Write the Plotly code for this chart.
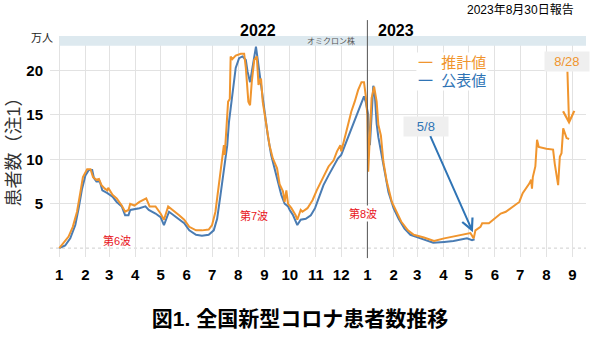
import plotly.graph_objects as go

# ---- data ----
est_dates = [
    "2022-01-01", "2022-01-06", "2022-01-12", "2022-01-17", "2022-01-22", "2022-01-26", "2022-01-29",
    "2022-02-03", "2022-02-07", "2022-02-10", "2022-02-14", "2022-02-17", "2022-02-20", "2022-02-24",
    "2022-02-27", "2022-02-28", "2022-03-05", "2022-03-10", "2022-03-16", "2022-03-20", "2022-03-24",
    "2022-03-26", "2022-03-31", "2022-04-06", "2022-04-11", "2022-04-14", "2022-04-18", "2022-04-25",
    "2022-05-01", "2022-05-05", "2022-05-10", "2022-05-17", "2022-05-23", "2022-05-29", "2022-06-04",
    "2022-06-12", "2022-06-19", "2022-06-27", "2022-07-01", "2022-07-05", "2022-07-09", "2022-07-13",
    "2022-07-15", "2022-07-16", "2022-07-18", "2022-07-20", "2022-07-22", "2022-07-23", "2022-07-25",
    "2022-07-29", "2022-08-04", "2022-08-08", "2022-08-10", "2022-08-13", "2022-08-15", "2022-08-17",
    "2022-08-20", "2022-08-23", "2022-08-25", "2022-08-28", "2022-08-30", "2022-09-03", "2022-09-07",
    "2022-09-11", "2022-09-16", "2022-09-19", "2022-09-23", "2022-09-25", "2022-09-27", "2022-09-29",
    "2022-10-03", "2022-10-08", "2022-10-10", "2022-10-14", "2022-10-16", "2022-10-22", "2022-10-28",
    "2022-11-02", "2022-11-08", "2022-11-12", "2022-11-16", "2022-11-22", "2022-11-26", "2022-11-30",
    "2022-12-01", "2022-12-07", "2022-12-13", "2022-12-17", "2022-12-21", "2022-12-25", "2022-12-28",
    "2022-12-30", "2023-01-01", "2023-01-02", "2023-01-04", "2023-01-06", "2023-01-09", "2023-01-12",
    "2023-01-14", "2023-01-17", "2023-01-20", "2023-01-24", "2023-01-30", "2023-02-05", "2023-02-10",
    "2023-02-18", "2023-02-25", "2023-03-09", "2023-03-21", "2023-04-02", "2023-04-13", "2023-04-25",
    "2023-05-03", "2023-05-07", "2023-05-09", "2023-05-15", "2023-05-17", "2023-05-25", "2023-05-31",
    "2023-06-08", "2023-06-14", "2023-06-22", "2023-06-30", "2023-07-04", "2023-07-08", "2023-07-12",
    "2023-07-14", "2023-07-15", "2023-07-16", "2023-07-19", "2023-07-21", "2023-07-23", "2023-08-01",
    "2023-08-09", "2023-08-11", "2023-08-13", "2023-08-15", "2023-08-17", "2023-08-19", "2023-08-21",
    "2023-08-25", "2023-08-28",
]
est_vals = [
    0.0, 0.6, 1.3, 2.4, 4.1, 6.3, 8.0,
    8.9, 8.9, 8.0, 7.7, 7.8, 7.1, 6.7,
    6.5, 6.8, 6.0, 5.6, 4.8, 4.1, 4.3,
    5.0, 4.8, 5.2, 5.5, 5.6, 4.7, 4.7,
    3.9, 3.2, 4.7, 4.1, 3.7, 3.2, 2.4,
    2.0, 2.0, 2.1, 2.6, 4.1, 7.1, 10.1,
    11.6, 10.5, 13.5, 16.5, 16.8, 21.6, 21.3,
    21.7, 21.9, 21.9, 20.3, 16.5, 16.1, 18.7,
    21.2, 21.6, 18.4, 19.1, 16.5, 13.9, 11.6,
    10.1, 9.0, 7.2, 6.4, 5.2, 6.5, 5.0,
    4.5, 3.7, 3.2, 4.3, 4.1, 4.5, 5.4,
    6.5, 7.7, 8.4, 9.2, 9.9, 10.9, 11.6,
    10.9, 13.1, 15.4, 16.5, 17.8, 18.7, 18.7,
    17.2, 15.0, 8.6, 12.0, 16.9, 18.2, 16.5,
    13.9, 12.7, 9.7, 7.5, 5.2, 3.9, 3.0,
    2.0, 1.5, 1.2, 0.8, 1.1, 1.3, 1.5,
    1.7, 1.1, 2.0, 2.4, 2.8, 2.8, 3.3,
    3.9, 4.1, 4.7, 5.2, 6.2, 6.7, 7.3,
    7.7, 6.7, 8.0, 9.2, 12.2, 11.4, 11.2,
    11.1, 9.5, 8.4, 7.1, 10.3, 10.7, 13.5,
    12.4, 12.3,
]

pub_dates = [
    "2022-01-01", "2022-01-08", "2022-01-14", "2022-01-20", "2022-01-24", "2022-01-28", "2022-02-01",
    "2022-02-05", "2022-02-09", "2022-02-11", "2022-02-14", "2022-02-18", "2022-02-21", "2022-02-27",
    "2022-03-05", "2022-03-10", "2022-03-16", "2022-03-20", "2022-03-24", "2022-03-26", "2022-04-06",
    "2022-04-13", "2022-04-17", "2022-04-25", "2022-05-01", "2022-05-05", "2022-05-11", "2022-05-17",
    "2022-05-23", "2022-05-29", "2022-06-04", "2022-06-12", "2022-06-19", "2022-06-27", "2022-07-03",
    "2022-07-07", "2022-07-11", "2022-07-15", "2022-07-19", "2022-07-21", "2022-07-25", "2022-07-29",
    "2022-08-02", "2022-08-06", "2022-08-10", "2022-08-12", "2022-08-15", "2022-08-18", "2022-08-20",
    "2022-08-22", "2022-08-25", "2022-08-28", "2022-09-01", "2022-09-05", "2022-09-09", "2022-09-13",
    "2022-09-17", "2022-09-21", "2022-09-25", "2022-09-29", "2022-10-01", "2022-10-05", "2022-10-10",
    "2022-10-14", "2022-10-20", "2022-10-26", "2022-10-31", "2022-11-04", "2022-11-10", "2022-11-16",
    "2022-11-22", "2022-11-27", "2022-12-01", "2022-12-07", "2022-12-13", "2022-12-19", "2022-12-25",
    "2022-12-28", "2022-12-30", "2023-01-02", "2023-01-04", "2023-01-06", "2023-01-08", "2023-01-10",
    "2023-01-12", "2023-01-14", "2023-01-18", "2023-01-22", "2023-01-26", "2023-02-01", "2023-02-07",
    "2023-02-14", "2023-02-21", "2023-03-05", "2023-03-20", "2023-04-02", "2023-04-13", "2023-04-29",
    "2023-05-05", "2023-05-08",
]
pub_vals = [
    0.0, 0.3, 1.1, 2.6, 4.5, 6.7, 8.2,
    8.8, 8.8, 7.9, 7.5, 7.5, 6.5, 6.2,
    5.8, 5.2, 4.7, 3.7, 3.7, 4.3, 4.5,
    4.7, 4.3, 3.9, 3.5, 2.6, 4.1, 3.7,
    3.3, 2.8, 2.0, 1.5, 1.4, 1.5, 2.0,
    3.3, 6.0, 9.0, 11.6, 14.2, 17.6, 20.3,
    21.4, 21.6, 21.2, 19.9, 18.7, 20.3, 21.8,
    22.7, 20.6, 18.4, 15.7, 12.7, 10.5, 9.0,
    7.5, 6.0, 5.0, 4.7, 4.3, 3.7, 2.6,
    3.2, 3.3, 3.7, 4.5, 5.6, 7.1, 8.2,
    9.2, 10.1, 10.5, 12.0, 13.5, 15.0, 16.5,
    17.1, 16.5, 15.0, 11.6, 14.6, 18.3, 17.0,
    14.0, 12.5, 10.5, 8.2, 6.3, 4.5, 3.3,
    2.2, 1.5, 1.1, 0.6, 0.7, 0.8, 1.1,
    0.9, 1.0,
]

tick_dates = [
    "2022-01-01", "2022-02-01", "2022-03-01", "2022-04-01", "2022-05-01", "2022-06-01",
    "2022-07-01", "2022-08-01", "2022-09-01", "2022-10-01", "2022-11-01", "2022-12-01",
    "2023-01-01", "2023-02-01", "2023-03-01", "2023-04-01", "2023-05-01", "2023-06-01",
    "2023-07-01", "2023-08-01", "2023-09-01",
]
tick_labels = ["1", "2", "3", "4", "5", "6", "7", "8", "9", "10", "11", "12",
               "1", "2", "3", "4", "5", "6", "7", "8", "9"]
y_ticks = [5, 10, 15, 20]

ORANGE = "#F0952E"
BLUE = "#4A7CB3"
TXT_BLUE = "#2F74B5"
RED = "#E8141C"
FONT = "Liberation Sans, Noto Sans CJK JP, sans-serif"
GRID = "#E2E2E2"
NB = "\u00a0"

fig = go.Figure()
fig.add_trace(go.Scatter(x=pub_dates, y=pub_vals, mode="lines", name="公表値",
                         line=dict(color=BLUE, width=2), showlegend=False))
fig.add_trace(go.Scatter(x=est_dates, y=est_vals, mode="lines", name="推計値",
                         line=dict(color=ORANGE, width=2), showlegend=False))

fig.update_layout(
    width=600, height=337,
    margin=dict(l=50, r=14, t=36, b=80),
    paper_bgcolor="white", plot_bgcolor="white",
    font=dict(family=FONT, color="black"),
    title=dict(text="図1. 全国新型コロナ患者数推移", x=0.5, xref="container", xanchor="center",
               y=1 - 319 / 337, yref="container", yanchor="middle",
               font=dict(size=21, weight="bold", color="black", family=FONT)),
    xaxis=dict(type="date", range=["2021-12-21", "2023-09-17"], tickvals=tick_dates,
               ticktext=tick_labels, showgrid=True, gridcolor=GRID, gridwidth=1,
               zeroline=False, showline=False, ticks="", ticklabelstandoff=7,
               tickfont=dict(size=15, weight="bold", family=FONT, color="black")),
    yaxis=dict(range=[-1.0, 23.9], tickvals=y_ticks, showgrid=True, gridcolor=GRID,
               zeroline=False, showline=False, ticks="", ticklabelstandoff=6,
               tickfont=dict(size=15, weight="bold", family=FONT, color="black")),
)

shapes = [
    dict(type="rect", xref="x", yref="y", x0="2022-01-01", x1="2023-09-17", y0=22.8, y1=23.9,
         fillcolor="#DDE9EF", line=dict(width=0), layer="above"),
    dict(type="line", xref="paper", yref="y", x0=0, x1=1, y0=0, y1=0,
         line=dict(color="#CFCFCF", width=1, dash="dot"), layer="below"),
    dict(type="line", xref="x", yref="paper", x0="2023-01-01", x1="2023-01-01", y0=-0.005, y1=1.072,
         line=dict(color="#555555", width=1)),
]
fig.update_layout(shapes=shapes)


def label(text, x, y, size, color, xref="paper", yref="paper", bold=False, **kw):
    f = dict(size=size, color=color, family=FONT)
    if bold:
        f["weight"] = "bold"
    d = dict(text=text, xref=xref, yref=yref, x=x, y=y, showarrow=False,
             xanchor=kw.pop("xanchor", "center"), yanchor=kw.pop("yanchor", "middle"), font=f)
    d.update(kw)
    return d


ann = [
    label("2023年8月30日報告", (520 - 50) / 536, (257 - 10) / 221, 12, "black"),
    label("2022", "2022-08-24", (257 - 30) / 221, 16, "black", xref="x", bold=True),
    label("2023", "2023-02-04", (257 - 30) / 221, 16, "black", xref="x", bold=True),
    label("万人", (42 - 50) / 536, (257 - 38) / 221, 11, "#222"),
    label("オミクロン株", "2022-10-19", 23.35, 8, "#555", xref="x", yref="y", xanchor="left"),
    label("患者数（注1）", (13 - 50) / 536, (257 - 147.5) / 221, 18, "#333", textangle=-90),
    label("一" + NB * 2 + "推計値", (452 - 50) / 536, (257 - 62) / 221, 15, ORANGE, bgcolor="white"),
    label("一" + NB * 2 + "公表値", (452 - 50) / 536, (257 - 80) / 221, 15, TXT_BLUE, bgcolor="white"),
    label("第6波", "2022-03-10", 0.9, 11, RED, xref="x", yref="y"),
    label("第7波", "2022-08-20", 3.7, 11, RED, xref="x", yref="y"),
    label("第8波", "2022-12-27", 3.9, 11, RED, xref="x", yref="y", bgcolor="white"),
]
ann.append(dict(text=NB * 2 + "8/28" + NB * 2, xref="x", yref="y", x="2023-08-28", y=13.9, ax=-2, ay=-63,
                showarrow=True, arrowhead=5, arrowsize=1.1, arrowwidth=2, arrowcolor=ORANGE,
                bgcolor="#EFEFEF", borderpad=2, font=dict(size=13, color=ORANGE, family=FONT)))
ann.append(dict(text=NB * 3 + "5/8" + NB * 3, xref="x", yref="y", x="2023-05-06", y=1.8, ax=-47, ay=-106,
                showarrow=True, arrowhead=5, arrowsize=1.1, arrowwidth=2, arrowcolor=TXT_BLUE,
                bgcolor="#EFEFEF", borderpad=2, font=dict(size=13, color=TXT_BLUE, family=FONT)))
fig.update_layout(annotations=ann)

fig.write_html("out.html")
